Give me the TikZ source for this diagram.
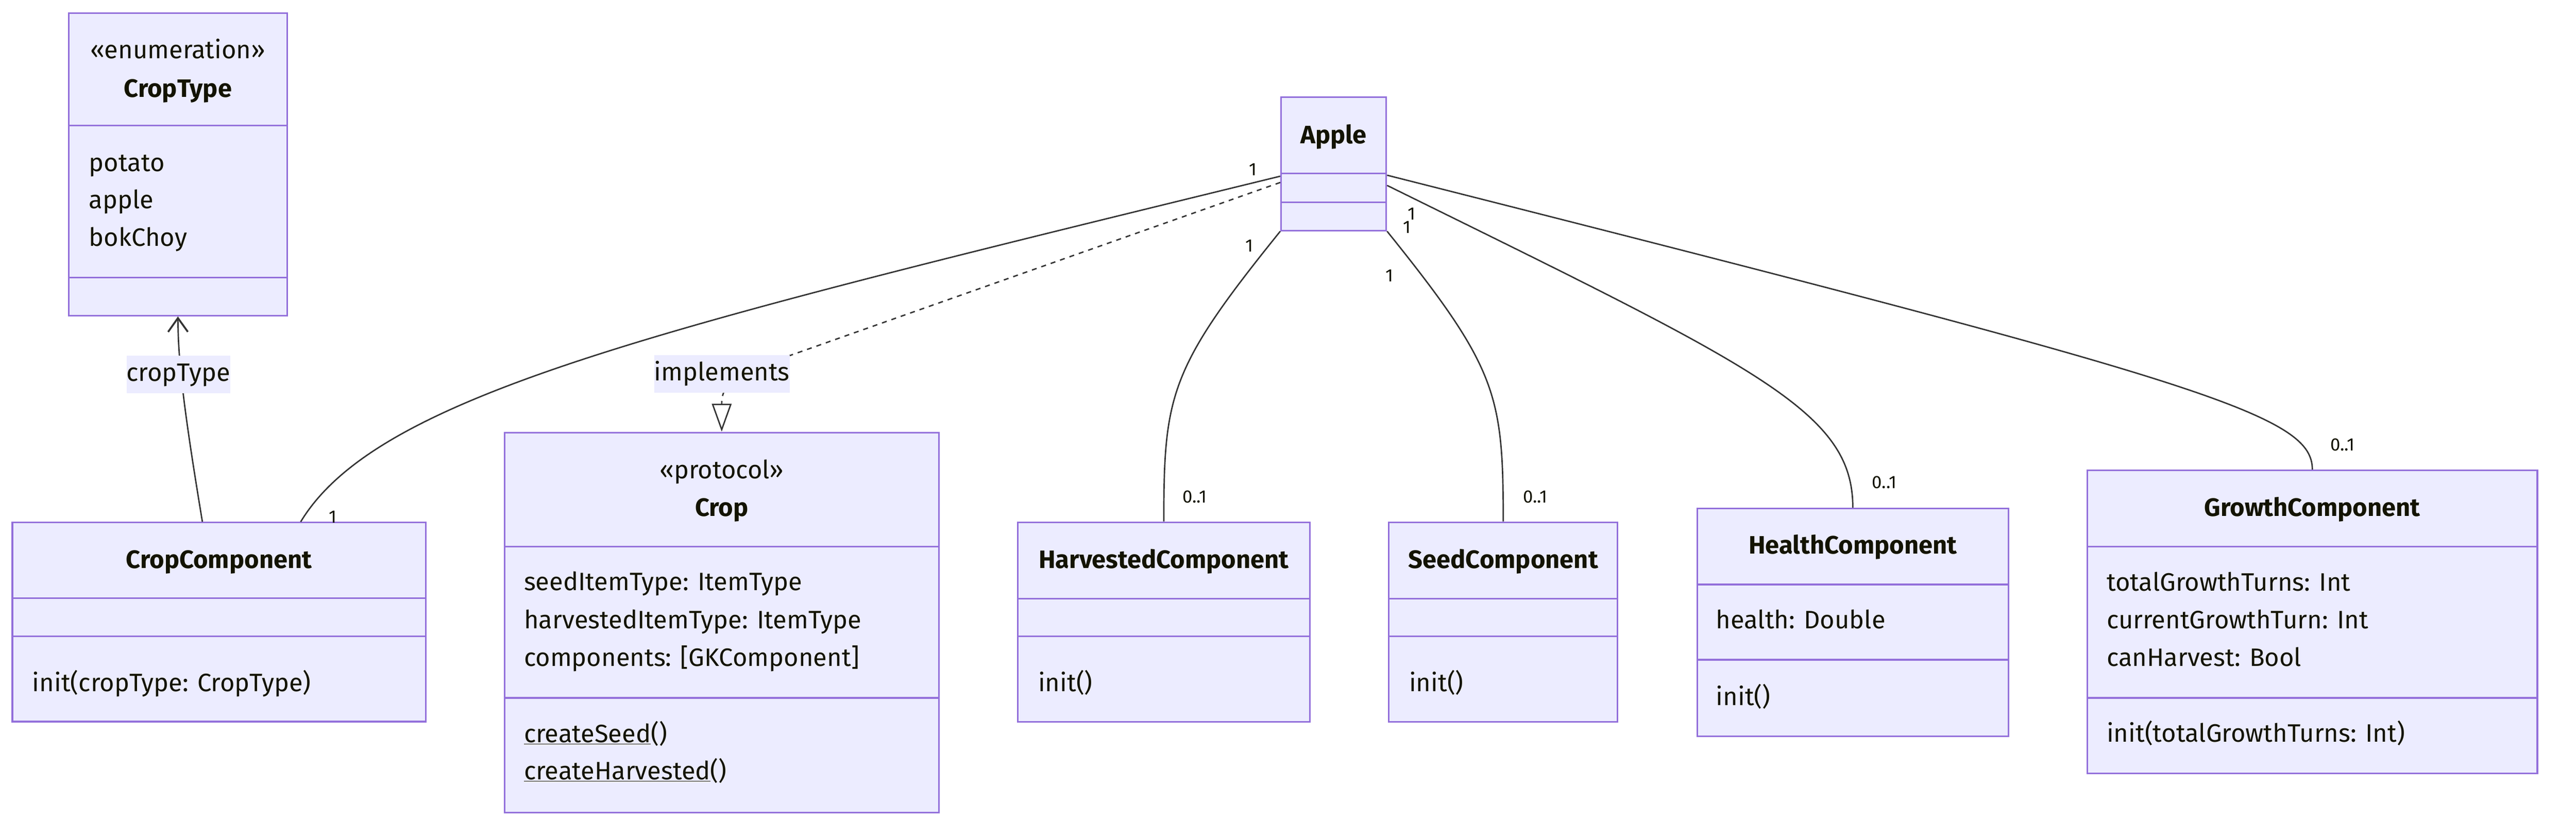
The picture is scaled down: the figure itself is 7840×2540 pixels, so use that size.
\documentclass[tikz,border=0pt]{standalone}
\usepackage{fontspec}
\setmainfont{Fira Sans}
\usetikzlibrary{arrows.meta}
\definecolor{classfill}{HTML}{ECECFF}
\definecolor{classline}{HTML}{9370DB}
\definecolor{edgeline}{HTML}{333333}
\definecolor{labeltext}{HTML}{131300}
\newcommand{\umlfont}{\fontsize{21.8}{26}\selectfont}
\tikzset{
  classbox/.style={draw=classline, fill=classfill, line width=1.4pt, inner sep=0},
  divider/.style={draw=classline, line width=1.4pt},
  member/.style={anchor=west, inner sep=0, text=labeltext, font=\umlfont, text height=0.56cm, text depth=0.16cm},
  classtitle/.style={member, anchor=center, font=\umlfont\bfseries},
  stereo/.style={member, anchor=center},
  mult/.style={inner sep=0, text=labeltext, font=\fontsize{15.5}{18}\selectfont},
  assoc/.style={draw=edgeline, line width=1.2pt},
  edgelabel/.style={fill=classfill, inner xsep=0pt, inner ysep=0, minimum height=1.14cm, text=labeltext, font=\umlfont, text height=0.56cm, text depth=0.16cm}
}
\begin{document}
\begin{tikzpicture}[x=0.01cm, y=-0.01cm]
\useasboundingbox (0,0) rectangle (7840,2540);
% class boxes
\node[classbox, minimum width=6.65cm, minimum height=9.2cm] (croptype) at (541.5,500) {};
\node[classbox, minimum width=3.2cm, minimum height=4.05cm] (apple) at (4059,498.5) {};
\node[classbox, minimum width=12.57cm, minimum height=6.05cm] (cropcomp) at (666.5,1892.5) {};
\node[classbox, minimum width=13.21cm, minimum height=11.55cm] (crop) at (2196.5,1893.5) {};
\node[classbox, minimum width=8.88cm, minimum height=6.07cm] (harvested) at (3542,1892.5) {};
\node[classbox, minimum width=6.96cm, minimum height=6.07cm] (seed) at (4575,1892.5) {};
\node[classbox, minimum width=9.46cm, minimum height=6.92cm] (health) at (5639,1893) {};
\node[classbox, minimum width=13.69cm, minimum height=9.22cm] (growth) at (7037.5,1892) {};
\foreach \n/\y in {croptype/382, croptype/845, apple/528, apple/615, cropcomp/1820, cropcomp/1936,
  crop/1663, crop/2123, harvested/1821, harvested/1936, seed/1821, seed/1936,
  health/1778, health/2007, growth/1663, growth/2123}
  \draw[divider] (\n.west |- 0,\y) -- (\n.east |- 0,\y);

% texts
\node[stereo] (ctstereo) at (541.5,158) {«enumeration»};
\node[classtitle] (cttitle) at (541.5,276) {CropType};
\node[member] (ctpotato) at (270,502) {potato};
\node[member] (ctapple) at (270,615) {apple};
\node[member] (ctbok) at (270,728) {bokChoy};
\node[classtitle] (appletitle) at (4059,416) {Apple};
\node[classtitle] (cctitle) at (666.5,1709) {CropComponent};
\node[member] (ccinit) at (98,2083) {init(cropType: CropType)};
\node[stereo] (cropstereo) at (2196.5,1436) {«protocol»};
\node[classtitle] (croptitle) at (2196.5,1551) {Crop};
\node[member] (cropa1) at (1594,1776) {seedItemType: ItemType};
\node[member] (cropa2) at (1594,1892) {harvestedItemType: ItemType};
\node[member] (cropa3) at (1594,2007) {components: [GKComponent]};
\node[member] (cropm1) at (1594,2238) {\underline{createSeed}()};
\node[member] (cropm2) at (1594,2351) {\underline{createHarvested}()};
\node[classtitle] (hvtitle) at (3542,1709) {HarvestedComponent};
\node[member] (hvinit) at (3159,2083) {init()};
\node[classtitle] (sdtitle) at (4575,1709) {SeedComponent};
\node[member] (sdinit) at (4288,2083) {init()};
\node[classtitle] (hltitle) at (5639,1665) {HealthComponent};
\node[member] (hla1) at (5222,1892) {health: Double};
\node[member] (hlinit) at (5222,2126) {init()};
\node[classtitle] (grtitle) at (7037.5,1550) {GrowthComponent};
\node[member] (gra1) at (6411,1778) {totalGrowthTurns: Int};
\node[member] (gra2) at (6411,1892) {currentGrowthTurn: Int};
\node[member] (gra3) at (6411,2007) {canHarvest: Bool};
\node[member] (grinit) at (6411,2237) {init(totalGrowthTurns: Int)};

% connectors
\draw[assoc, -{Straight Barb[length=0.42cm, width=0.6cm, line width=1.6pt]}] ([xshift=-0.505cm]cropcomp.north) .. controls (560,1250) and (542,1100) .. (croptype.south);
\draw[assoc] ([yshift=-0.375cm]apple.west) .. controls (2000,1000) and (1150,1200) .. ([xshift=2.485cm]cropcomp.north);
\draw[assoc, dash pattern=on 4.3pt off 4.3pt, -{Triangle[open, length=0.85cm, width=0.6cm]}] ([yshift=-0.565cm]apple.west) -- (2380,1090) .. controls (2230,1145) and (2196.5,1170) .. (crop.north);
\draw[assoc] (apple.south west) .. controls (3560,1120) and (3542,1200) .. (harvested.north);
\draw[assoc] (apple.south east) .. controls (4557,1120) and (4575,1200) .. (seed.north);
\draw[assoc] ([yshift=-0.655cm]apple.east) .. controls (5350,1120) and (5639,1250) .. (health.north);
\draw[assoc] ([yshift=-0.345cm]apple.east) .. controls (6700,1160) and (7037.5,1260) .. (growth.north);
\node[edgelabel] (lblcroptype) at (543,1139) {cropType};
\node[edgelabel] (lblimpl) at (2197,1138) {implements};

% multiplicities
\node[mult] (mcc1) at (3813,515) {1};
\node[mult] (mcc2) at (1013,1573) {1};
\node[mult] (mhv1) at (3802,747) {1};
\node[mult] (mhv2) at (3636,1512) {0..1};
\node[mult] (msd1) at (4229,838) {1};
\node[mult] (msd2) at (4672,1512) {0..1};
\node[mult] (mhl1) at (4282,691) {1};
\node[mult] (mhl2) at (5735,1468) {0..1};
\node[mult] (mgr1) at (4297,651) {1};
\node[mult] (mgr2) at (7130,1353) {0..1};
\end{tikzpicture}
\end{document}
